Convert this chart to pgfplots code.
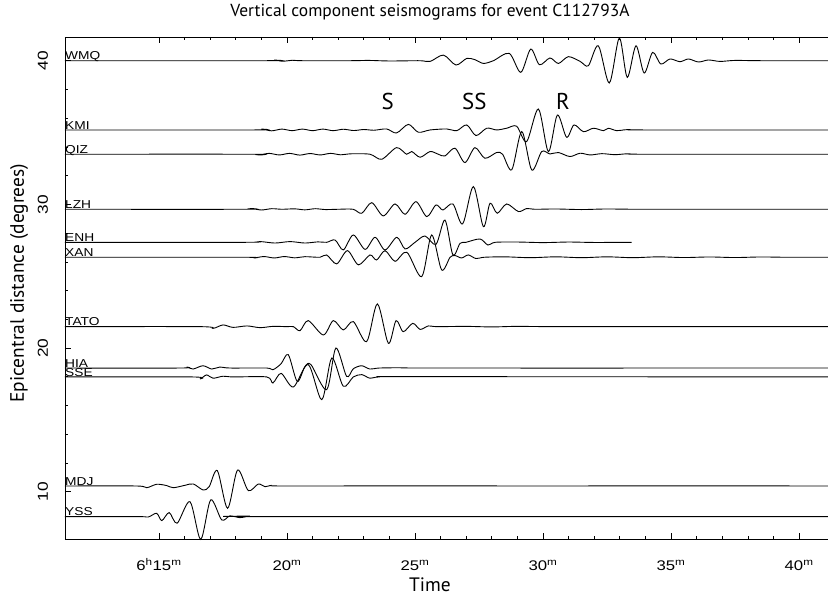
\documentclass[border=0pt]{standalone}
\usepackage{fontspec}
\setmainfont{PT Sans}
\newfontfamily\hfont[FakeStretch=1.2]{Liberation Sans}
\usepackage{pgfplots}
\pgfplotsset{compat=1.18}
\usepackage{pgfplotstable}
\tikzset{station/.style={font=\hfont\fontsize{11.5}{12}\selectfont, anchor=base west, inner sep=0pt, yshift=0.8bp}}

% traces: time (min after 6h) and amplitude (degrees) about each station's distance
\pgfplotstableread{
t a
11.33 0
19.2 0
19.5 0.04
19.85 -0.04
20.2 0.03
20.6 0
22.5 0
23.2 0.02
24.0 -0.02
25.19 0
25.59 -0.05
26.11 0.39
26.60 -0.30
27.02 0.16
27.34 0.07
27.67 -0.19
28.06 0.0
28.68 0.51
29.13 -0.81
29.52 0.81
29.86 -0.28
30.27 0.19
30.60 -0.19
30.99 0.28
31.45 -0.05
31.77 -0.35
32.16 1.04
32.59 -1.55
32.98 1.58
33.29 -1.16
33.63 1.04
33.95 -0.86
34.28 0.58
34.60 -0.23
34.96 0.12
35.35 -0.07
35.68 0.12
36.07 -0.09
36.46 0.05
36.91 -0.05
37.5 0.02
38.5 0
41.13 0
}\wmq

\pgfplotstableread{
t a
11.33 0
18.7 0
19.0 0.06
19.4 -0.06
19.8 0.06
20.2 -0.05
20.6 0.06
21.0 -0.05
21.4 0.06
21.8 -0.05
22.2 0.05
22.6 -0.04
23.0 0.03
23.4 -0.02
23.89 0.07
24.28 -0.21
24.74 0.39
25.13 -0.16
25.59 0.0
26.24 0.07
26.63 -0.05
27.02 0.35
27.38 -0.39
27.80 0.12
28.19 0.0
28.58 0.12
28.97 0.26
29.36 -0.81
29.82 1.46
30.21 -1.51
30.56 1.04
30.92 -0.51
31.21 0.35
31.58 -0.12
31.97 0.12
32.36 -0.05
32.55 0.12
32.88 -0.05
33.27 0.02
34.0 0
41.13 0
}\kmi

\pgfplotstableread{
t a
11.33 0
18.6 0
18.9 -0.05
19.3 0.06
19.7 -0.05
20.1 0.06
20.5 -0.06
20.9 0.05
21.3 -0.05
21.7 0.06
22.1 -0.04
22.5 0.03
23.24 0
23.70 -0.35
24.28 0.46
24.67 0.0
24.87 0.19
25.20 -0.21
25.59 0.19
25.91 0
26.17 -0.12
26.56 0.42
26.95 -0.58
27.34 0.46
27.73 -0.28
28.19 0.12
28.42 0
28.78 -1.08
29.17 1.58
29.56 -1.10
29.95 0.19
30.27 0.02
30.60 0.12
31.05 -0.16
31.45 0.07
31.84 -0.05
32.3 0.04
32.8 -0.03
33.3 0.03
34.0 0
41.13 0
}\qiz

\pgfplotstableread{
t a
11.33 0
18.3 0
18.6 0.05
19.0 -0.05
19.4 0.04
19.8 0
20.3 0.03
20.7 -0.04
21.1 0.04
21.5 -0.02
22.0 0
22.58 0
22.92 -0.28
23.31 0.46
23.76 -0.46
24.22 0.37
24.61 -0.35
25.04 0.53
25.46 -0.51
25.82 0.30
26.09 -0.05
26.48 0.37
26.86 -1.02
27.28 1.58
27.67 -1.21
27.93 0.42
28.21 -0.28
28.58 0.37
29.04 -0.16
29.36 0.05
29.69 0
30.5 0.02
31.5 -0.02
32.5 0.02
34.0 0
41.13 0
}\lzh

\pgfplotstableread{
t a
11.33 0
18.3 0
18.95 0.05
19.53 -0.05
20.12 0.05
20.70 -0.05
21.21 0.03
21.55 0
21.88 0.16
22.20 -0.53
22.59 0.51
23.05 -0.49
23.44 0.35
23.83 -0.53
24.29 0.35
24.61 -0.46
25.00 0.0
25.39 0.44
25.82 -0.14
26.17 1.55
26.48 -0.88
26.76 -0.07
26.99 0
27.54 0.23
27.85 -0.19
28.13 0
29.0 0.02
30.0 -0.02
31.0 0.02
32.0 -0.01
33.46 0
}\enh

\pgfplotstableread{
t a
11.33 0
18.3 0
18.7 -0.05
19.1 0.05
19.5 -0.05
19.9 0.05
20.3 -0.04
20.7 0.04
21.29 0
21.55 0.16
21.94 -0.46
22.36 0.46
22.79 -0.53
23.24 0.16
23.50 -0.19
23.83 0.46
24.22 -0.28
24.68 0.35
25.26 -1.35
25.65 1.55
26.04 -0.88
26.37 0
26.56 0.12
26.82 -0.05
27.08 0.16
27.38 -0.09
27.70 0
28.5 0.03
29.5 -0.03
30.5 0.03
31.5 -0.03
32.5 0.03
33.5 -0.03
34.5 0.03
35.5 -0.02
36.5 0.02
37.5 -0.02
38.5 0.02
39.5 0
41.13 0
}\xan

\pgfplotstableread{
t a
11.33 0
16.6 0
17.11 -0.12
17.50 0.12
17.89 -0.05
18.44 0.05
18.95 -0.07
19.45 0.02
20.0 0
20.25 0
20.51 -0.28
20.83 0.42
21.42 -0.58
21.81 0.42
22.20 -0.23
22.59 0.35
23.11 -1.04
23.53 1.58
23.96 -1.16
24.26 0.42
24.54 -0.35
24.91 0.23
25.20 -0.19
25.52 0.05
25.85 0
27.0 0.02
28.0 -0.02
29.0 0.02
31.0 0
41.13 0
}\tato

\pgfplotstableread{
t a
11.33 0
15.8 0
16.08 0.07
16.33 -0.07
16.72 0.16
17.06 -0.07
17.38 0.07
17.77 0
19.21 0
19.45 -0.12
19.77 0.30
20.05 0.93
20.40 -0.93
20.70 0.10
20.94 0.23
21.55 -1.51
21.91 1.39
22.33 -0.58
22.59 -0.05
22.92 0.16
23.24 -0.07
23.6 0
24.5 0.02
26.0 0
41.13 0
}\hia

\pgfplotstableread{
t a
11.33 0
16.3 0
16.60 -0.14
16.86 0.14
17.11 -0.09
17.5 0.05
17.9 0
19.21 0
19.45 -0.42
19.77 0.25
20.25 -0.70
20.83 0.86
21.36 -1.58
21.75 1.32
22.20 -0.65
22.59 0
22.92 0.16
23.24 -0.09
23.6 0
25.0 0.02
41.13 0
}\sse

\pgfplotstableread{
t a
11.33 0
14.13 0
14.52 -0.12
14.91 0.12
15.30 0.03
15.56 -0.12
16.02 0.05
16.34 0.14
16.73 -0.28
16.96 -0.05
17.28 1.07
17.68 -1.55
18.07 1.11
18.49 -0.32
18.88 0.14
19.14 -0.05
19.40 0.05
19.8 0
25.0 0.01
30.0 0
35.0 0.01
41.13 0
}\mdj

\pgfplotstableread{
t a
11.33 0
14.2 0
14.58 -0.03
14.91 0.23
15.11 -0.28
15.40 0.28
15.71 -0.46
16.21 1.04
16.63 -1.58
17.02 1.16
17.45 -0.23
17.77 0.05
18.16 -0.07
18.55 0.03
19.0 0
41.13 0
}\yss

\begin{document}
\begin{tikzpicture}
\path[use as bounding box] (-65bp,-57.7bp) rectangle (763bp,539.3bp);
\begin{axis}[
  at={(0,0)}, anchor=south west,
  scale only axis, width=763bp, height=502.3bp,
  xmin=11.33, xmax=41.13, ymin=6.69, ymax=41.65,
  axis x line*=box, axis y line*=left,
  axis line style={black, line width=0.8bp},
  clip=false,
  tick align=inside,
  major tick length=6bp, minor tick length=3bp,
  tick style={black, line width=0.7bp},
  xtick={15,20,25,30,35,40},
  minor x tick num=4,
  xticklabels={6\textsuperscript{h}15\textsuperscript{m},
    20\textsuperscript{m},25\textsuperscript{m},30\textsuperscript{m},
    35\textsuperscript{m},40\textsuperscript{m}},
  ytick={10,20,30,40},
  minor y tick num=4,
  /pgf/number format/assume math mode=true,
  xticklabel style={font=\hfont\fontsize{14}{16}\selectfont, anchor=base, yshift=-31bp},
  yticklabel style={font=\hfont\fontsize{14.5}{16}\selectfont, xshift=-22bp, rotate=90, anchor=center},
  trace/.style={black, line width=0.9bp, smooth, tension=0.5, no markers},
]
\addplot[trace] table[x=t, y expr=\thisrow{a}+40.0] {\wmq};
\addplot[trace] table[x=t, y expr=\thisrow{a}+35.18] {\kmi};
\addplot[trace] table[x=t, y expr=\thisrow{a}+33.49] {\qiz};
\addplot[trace] table[x=t, y expr=\thisrow{a}+29.66] {\lzh};
\addplot[trace] table[x=t, y expr=\thisrow{a}+27.36] {\enh};
\addplot[trace] table[x=t, y expr=\thisrow{a}+26.32] {\xan};
\addplot[trace] table[x=t, y expr=\thisrow{a}+21.49] {\tato};
\addplot[trace] table[x=t, y expr=\thisrow{a}+18.61] {\hia};
\addplot[trace] table[x=t, y expr=\thisrow{a}+17.99] {\sse};
\addplot[trace] table[x=t, y expr=\thisrow{a}+10.40] {\mdj};
\addplot[trace] table[x=t, y expr=\thisrow{a}+8.27] {\yss};

\node[station] at (axis cs:11.33,40.0) {WMQ};
\node[station] at (axis cs:11.33,35.18) {KMI};
\node[station] at (axis cs:11.33,33.49) {QIZ};
\node[station] at (axis cs:11.33,29.66) {LZH};
\node[station] at (axis cs:11.33,27.36) {ENH};
\node[station] at (axis cs:11.33,26.32) {XAN};
\node[station] at (axis cs:11.33,21.49) {TATO};
\node[station] at (axis cs:11.33,18.61) {HIA};
\node[station] at (axis cs:11.33,17.99) {SSE};
\node[station] at (axis cs:11.33,10.40) {MDJ};
\node[station] at (axis cs:11.33,8.27) {YSS};

\node[font=\fontsize{23}{26}\selectfont] at (axis cs:23.93,37.17) {S};
\node[font=\fontsize{23}{26}\selectfont] at (axis cs:27.32,37.17) {SS};
\node[font=\fontsize{23}{26}\selectfont] at (axis cs:30.78,37.17) {R};
\end{axis}
\node[font=\fontsize{17.5}{19}\selectfont] at (365bp,527bp) {Vertical component seismograms for event C112793A};
\node[font=\fontsize{19.5}{21}\selectfont] at (365bp,-45.7bp) {Time};
\node[font=\fontsize{19.5}{21}\selectfont, rotate=90] at (-46bp,256bp) {Epicentral distance (degrees)};
\end{tikzpicture}
\end{document}
